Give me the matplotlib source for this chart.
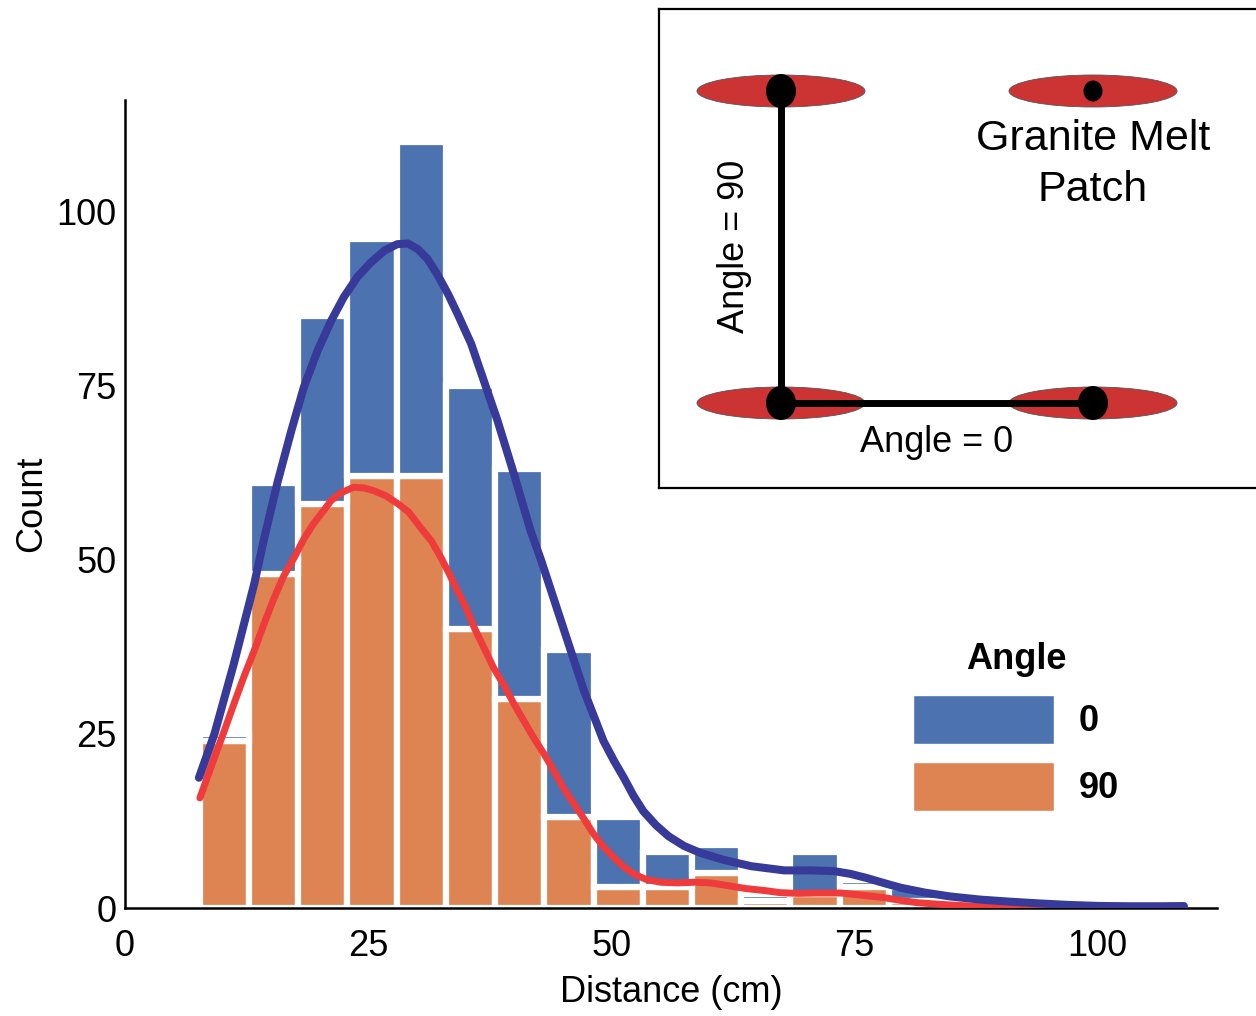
import numpy as np
import matplotlib
matplotlib.use("Agg")
import matplotlib.pyplot as plt
from matplotlib.patches import Patch, Ellipse

plt.rcParams['font.family'] = ['Liberation Sans', 'DejaVu Sans']

# histogram data: 20 bins between the smallest and largest distance
dist_min, dist_max = 7.7, 108.9
n_bins = 20
count_0 = [1, 13, 27, 34, 48, 35, 33, 24, 10, 5, 4, 1, 6, 1, 2, 0, 0, 0, 0, 1]
count_90 = [24, 48, 58, 62, 62, 40, 30, 13, 3, 3, 5, 1, 2, 3, 1, 0, 0, 0, 0, 0]

# stacked KDE curves (top = both angles, bottom = 90)
kde_all_x = [7.6, 9.2, 11.2, 13.3, 14.3, 15.7, 17.1, 18.4, 19.8, 21.2, 22.5, 23.9,
             25.3, 26.7, 28.0, 29.1, 30.1, 31.1, 32.1, 33.2, 34.2, 35.6, 36.9, 38.3,
             40.0, 41.7, 42.8, 45.5, 47.2, 49.2, 50.3, 51.3, 52.3, 53.3, 54.6, 55.9,
             57.5, 59.2, 61.6, 64.4, 67.8, 70.5, 72.9, 74.6, 76.3, 78.0, 79.8, 82.3,
             84.9, 88.0, 91.1, 94.1, 97.2, 100.3, 103.5, 106.5, 108.9]
kde_all_y = [18.7, 25.0, 35.1, 46.6, 53.0, 61.2, 68.5, 74.8, 80.0, 84.3, 87.7, 90.6,
             92.7, 94.4, 95.3, 95.4, 94.6, 93.2, 91.0, 88.2, 85.3, 81.0, 75.7, 70.0,
             62.3, 54.2, 49.9, 38.4, 31.2, 24.0, 21.1, 18.7, 16.1, 13.9, 11.9, 10.3,
             8.9, 7.9, 6.9, 6.0, 5.4, 5.4, 5.3, 4.9, 4.3, 3.6, 2.9, 2.2,
             1.65, 1.2, 0.9, 0.65, 0.43, 0.29, 0.25, 0.25, 0.28]
kde_90_x = [7.7, 9.2, 10.2, 11.2, 12.2, 13.3, 14.3, 15.3, 16.3, 17.4, 18.4, 19.4,
            20.4, 21.2, 22.2, 23.5, 24.6, 25.6, 26.8, 28.1, 29.2, 30.4, 31.5, 32.5,
            33.3, 34.2, 35.1, 35.9, 36.9, 37.9, 39.0, 40.0, 41.0, 42.0, 43.1, 44.1,
            45.1, 46.2, 47.2, 48.2, 49.2, 50.3, 51.3, 52.3, 53.6, 55.1, 56.8, 58.6,
            60.2, 61.6, 63.8, 65.8, 67.4, 69.2, 71.3, 73.6, 75.6, 78.0, 79.8, 81.5,
            83.4, 84.9, 86.9, 89.0, 92.1, 96.2, 100.3, 108.9]
kde_90_y = [15.8, 21.6, 25.4, 29.3, 33.1, 37.0, 40.8, 44.4, 47.6, 50.3, 53.0, 55.2,
            57.0, 58.5, 59.6, 60.4, 60.3, 59.9, 59.2, 58.0, 56.8, 54.6, 52.7, 50.3,
            48.1, 45.5, 43.0, 40.3, 37.4, 34.5, 31.9, 29.3, 26.9, 24.5, 22.1, 19.7,
            17.2, 14.9, 12.8, 10.6, 8.8, 7.2, 5.9, 4.9, 4.1, 3.7, 3.6, 3.7,
            3.6, 3.3, 2.8, 2.5, 2.2, 2.1, 2.15, 2.15, 1.87, 1.5, 1.08, 0.76,
            0.57, 0.43, 0.29, 0.14, 0.0, 0.0, 0.0, 0.0]

angle_labels = ['0', '90']
bar_colors = ['#4c72b0', '#dd8452']
line_colors = ['#373a98', '#ef3b3b']

fs = 26

fig = plt.figure(figsize=(12.56, 10.16), dpi=100)
ax = fig.add_axes([125 / 1256, 1 - 908 / 1016, (1217 - 125) / 1256, (908 - 100) / 1016])

edges = np.linspace(dist_min, dist_max, n_bins + 1)
widths = np.diff(edges)
ax.bar(edges[:-1], count_90, width=widths, align='edge', color=bar_colors[1],
       edgecolor='white', linewidth=4.5, zorder=2)
ax.bar(edges[:-1], count_0, width=widths, bottom=count_90, align='edge',
       color=bar_colors[0], edgecolor='white', linewidth=4.5, zorder=2)

ax.plot(kde_all_x, kde_all_y, color=line_colors[0], lw=5.8, solid_capstyle='round',
        solid_joinstyle='round', zorder=4)
ax.plot(kde_90_x, kde_90_y, color=line_colors[1], lw=5.0, solid_capstyle='round',
        solid_joinstyle='round', zorder=3)

ax.set_xlim(0, 112.3)
ax.set_ylim(0, 116)
ax.set_xticks([0, 25, 50, 75, 100])
ax.set_yticks([0, 25, 50, 75, 100])
ax.tick_params(length=0, labelsize=fs)
ax.tick_params(axis='x', pad=15)
ax.tick_params(axis='y', pad=6)
for s in ['top', 'right']:
    ax.spines[s].set_visible(False)
for s in ['left', 'bottom']:
    ax.spines[s].set_linewidth(1.8)
ax.set_xlabel('Distance (cm)', fontsize=fs, labelpad=8)
ax.set_ylabel('Count', fontsize=fs, labelpad=5)

handles = [Patch(facecolor=bar_colors[0], edgecolor='white'),
           Patch(facecolor=bar_colors[1], edgecolor='white')]
leg = ax.legend(handles, angle_labels, title='Angle', loc='upper left',
                bbox_to_anchor=(913 / 1256, 1 - 642 / 1016), bbox_transform=fig.transFigure,
                frameon=False, borderpad=0, borderaxespad=0, handlelength=3.9,
                handleheight=1.71, handletextpad=0.7, labelspacing=0.5,
                prop={'size': fs, 'weight': 'bold'},
                title_fontproperties={'size': fs, 'weight': 'bold'})

# inset schematic
ins = fig.add_axes([659 / 1256, 1 - 488 / 1016, 603 / 1256, 479 / 1016])
ins.set_xlim(0, 603)
ins.set_ylim(479, 0)
ins.set_xticks([])
ins.set_yticks([])
for s in ins.spines.values():
    s.set_linewidth(1.6)
for cx, cy in [(122, 82), (434, 82), (122, 394), (434, 394)]:
    ins.add_patch(Ellipse((cx, cy), 168, 32, facecolor='#cc3333', edgecolor='#555555', lw=0.6))
ins.plot([122, 122], [82, 394], color='black', lw=5, solid_capstyle='butt')
ins.plot([122, 434], [394, 394], color='black', lw=5, solid_capstyle='butt')
for cx, cy in [(122, 82), (122, 394), (434, 394)]:
    ins.add_patch(Ellipse((cx, cy), 30, 34, facecolor='black', edgecolor='none'))
ins.add_patch(Ellipse((434, 82), 19, 21, facecolor='black', edgecolor='none'))
ins.text(434, 155.5, 'Granite Melt\nPatch', ha='center', va='center', fontsize=31,
         linespacing=1.35)
ins.text(278, 434, 'Angle = 0', ha='center', va='center', fontsize=fs)
ins.text(76, 237, 'Angle = 90', ha='center', va='center', fontsize=fs, rotation=90)

fig.savefig('out.png', dpi=100)
